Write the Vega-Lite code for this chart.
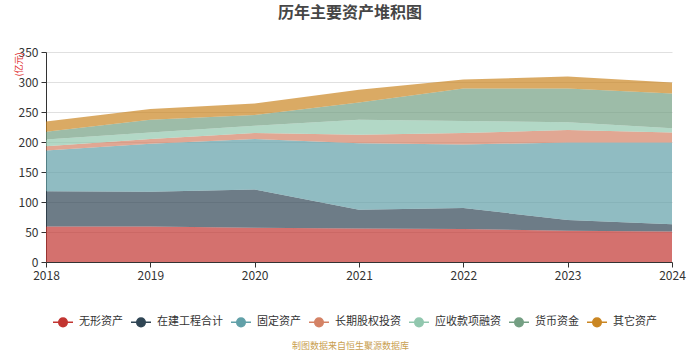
{
  "$schema": "https://vega.github.io/schema/vega-lite/v6.json",
  "width": 626,
  "height": 210,
  "autosize": {"type": "none"},
  "padding": {"left": 46, "top": 52, "right": 28, "bottom": 88},
  "background": "white",
  "title": {
    "text": "历年主要资产堆积图",
    "fontSize": 16,
    "fontWeight": "bold",
    "color": "#464646",
    "font": "Noto Sans CJK SC",
    "anchor": "middle",
    "dx": -9,
    "offset": 25
  },
  "config": {
    "font": "Noto Sans CJK SC",
    "view": {"stroke": null},
    "axis": {
      "labelFont": "Noto Sans CJK SC",
      "titleFont": "Noto Sans CJK SC",
      "labelColor": "#333333",
      "labelFontSize": 12,
      "domainColor": "#333333",
      "tickColor": "#333333"
    }
  },
  "data": {
    "values": [
      {"year": "2018", "name": "无形资产", "ord": 1, "value": 59},
      {"year": "2018", "name": "在建工程合计", "ord": 2, "value": 59},
      {"year": "2018", "name": "固定资产", "ord": 3, "value": 68},
      {"year": "2018", "name": "长期股权投资", "ord": 4, "value": 7},
      {"year": "2018", "name": "应收款项融资", "ord": 5, "value": 11},
      {"year": "2018", "name": "货币资金", "ord": 6, "value": 13},
      {"year": "2018", "name": "其它资产", "ord": 7, "value": 17},
      {"year": "2019", "name": "无形资产", "ord": 1, "value": 59},
      {"year": "2019", "name": "在建工程合计", "ord": 2, "value": 58},
      {"year": "2019", "name": "固定资产", "ord": 3, "value": 80},
      {"year": "2019", "name": "长期股权投资", "ord": 4, "value": 8},
      {"year": "2019", "name": "应收款项融资", "ord": 5, "value": 11},
      {"year": "2019", "name": "货币资金", "ord": 6, "value": 21},
      {"year": "2019", "name": "其它资产", "ord": 7, "value": 18},
      {"year": "2020", "name": "无形资产", "ord": 1, "value": 57},
      {"year": "2020", "name": "在建工程合计", "ord": 2, "value": 64},
      {"year": "2020", "name": "固定资产", "ord": 3, "value": 84},
      {"year": "2020", "name": "长期股权投资", "ord": 4, "value": 10},
      {"year": "2020", "name": "应收款项融资", "ord": 5, "value": 12},
      {"year": "2020", "name": "货币资金", "ord": 6, "value": 18},
      {"year": "2020", "name": "其它资产", "ord": 7, "value": 19},
      {"year": "2021", "name": "无形资产", "ord": 1, "value": 56},
      {"year": "2021", "name": "在建工程合计", "ord": 2, "value": 31},
      {"year": "2021", "name": "固定资产", "ord": 3, "value": 111},
      {"year": "2021", "name": "长期股权投资", "ord": 4, "value": 14},
      {"year": "2021", "name": "应收款项融资", "ord": 5, "value": 25},
      {"year": "2021", "name": "货币资金", "ord": 6, "value": 29},
      {"year": "2021", "name": "其它资产", "ord": 7, "value": 21},
      {"year": "2022", "name": "无形资产", "ord": 1, "value": 55},
      {"year": "2022", "name": "在建工程合计", "ord": 2, "value": 35},
      {"year": "2022", "name": "固定资产", "ord": 3, "value": 106},
      {"year": "2022", "name": "长期股权投资", "ord": 4, "value": 19},
      {"year": "2022", "name": "应收款项融资", "ord": 5, "value": 20},
      {"year": "2022", "name": "货币资金", "ord": 6, "value": 54},
      {"year": "2022", "name": "其它资产", "ord": 7, "value": 15},
      {"year": "2023", "name": "无形资产", "ord": 1, "value": 52},
      {"year": "2023", "name": "在建工程合计", "ord": 2, "value": 18},
      {"year": "2023", "name": "固定资产", "ord": 3, "value": 129},
      {"year": "2023", "name": "长期股权投资", "ord": 4, "value": 21},
      {"year": "2023", "name": "应收款项融资", "ord": 5, "value": 13},
      {"year": "2023", "name": "货币资金", "ord": 6, "value": 56},
      {"year": "2023", "name": "其它资产", "ord": 7, "value": 20},
      {"year": "2024", "name": "无形资产", "ord": 1, "value": 51},
      {"year": "2024", "name": "在建工程合计", "ord": 2, "value": 12},
      {"year": "2024", "name": "固定资产", "ord": 3, "value": 136},
      {"year": "2024", "name": "长期股权投资", "ord": 4, "value": 17},
      {"year": "2024", "name": "应收款项融资", "ord": 5, "value": 7},
      {"year": "2024", "name": "货币资金", "ord": 6, "value": 58},
      {"year": "2024", "name": "其它资产", "ord": 7, "value": 18}
    ]
  },
  "mark": {"type": "area", "opacity": 0.7, "interpolate": "linear"},
  "encoding": {
    "x": {
      "field": "year",
      "type": "ordinal",
      "scale": {"type": "point", "padding": 0},
      "axis": {
        "labelAngle": 0,
        "grid": false,
        "tickSize": 5,
        "labelPadding": 3,
        "title": "制图数据来自恒生聚源数据库",
        "titleFontSize": 9,
        "titleFontWeight": "normal",
        "titleColor": "#c9a050",
        "titleY": 83,
        "titleX": 304,
        "titleAlign": "center",
        "titleBaseline": "middle"
      }
    },
    "y": {
      "field": "value",
      "type": "quantitative",
      "stack": "zero",
      "scale": {"domain": [0, 350]},
      "axis": {
        "values": [0, 50, 100, 150, 200, 250, 300, 350],
        "grid": true,
        "gridColor": "#e0e0e0",
        "tickSize": 5,
        "labelPadding": 3,
        "title": "(亿元)",
        "titleFontSize": 9,
        "titleFontWeight": "normal",
        "titleColor": "#e03030",
        "titleAngle": -90,
        "titleX": -28,
        "titleY": 12,
        "titleAlign": "center",
        "titleBaseline": "middle"
      }
    },
    "order": {"field": "ord", "type": "quantitative"},
    "color": {
      "field": "name",
      "type": "nominal",
      "sort": ["无形资产", "在建工程合计", "固定资产", "长期股权投资", "应收款项融资", "货币资金", "其它资产"],
      "scale": {
        "domain": ["无形资产", "在建工程合计", "固定资产", "长期股权投资", "应收款项融资", "货币资金", "其它资产"],
        "range": ["#c23531", "#2f4554", "#61a0a8", "#d48265", "#91c7ae", "#749f83", "#ca8622"]
      },
      "legend": {
        "title": null,
        "orient": "none",
        "direction": "horizontal",
        "legendX": 6,
        "legendY": 259,
        "symbolType": "M-1,0H1M-0.43,0A0.43,0.43 0 1,1 0.43,0A0.43,0.43 0 1,1 -0.43,0Z",
        "symbolSize": 400,
        "symbolOpacity": 1,
        "symbolStrokeWidth": 1.5,
        "labelFontSize": 11,
        "labelColor": "#333333",
        "labelOffset": 5,
        "columnPadding": 5,
        "labelFont": "Noto Sans CJK SC",
        "encode": {
          "symbols": {"update": {"stroke": {"scale": "color", "field": "value"}, "strokeWidth": {"value": 1.5}}}
        }
      }
    }
  }
}
